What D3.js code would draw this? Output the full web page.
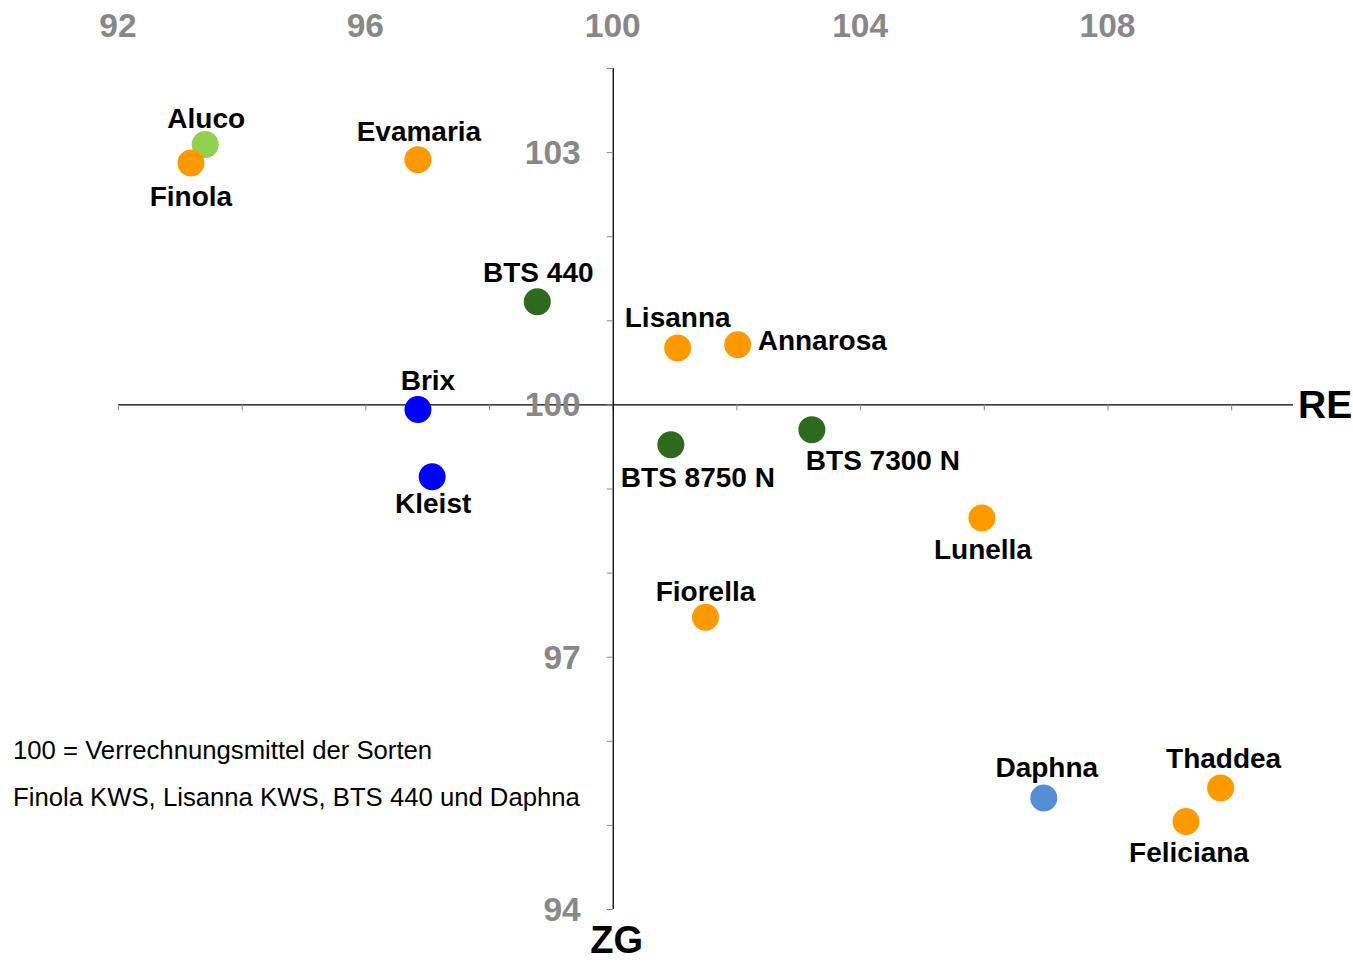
<!DOCTYPE html>
<html><head><meta charset="utf-8">
<script src="https://cdn.jsdelivr.net/npm/d3@7"></script>
<style>body{margin:0;background:#fff}svg{display:block}</style>
</head><body>
<script>
// ---- data ----
const varieties = ["Aluco","Finola","Evamaria","BTS 440","Lisanna","Annarosa","Brix","Kleist","BTS 8750 N","BTS 7300 N","Lunella","Fiorella","Daphna","Thaddea","Feliciana"];
const reValues  = [93.41, 93.18, 96.85, 98.78, 101.05, 102.02, 96.85, 97.08, 100.94, 103.22, 105.97, 101.50, 106.97, 109.83, 109.27];
const zgValues  = [103.09, 102.87, 102.91, 101.22, 100.67, 100.71, 99.94, 99.14, 99.52, 99.70, 98.65, 97.47, 95.32, 95.44, 95.04];
const groups    = ["lightgreen","orange","orange","darkgreen","orange","orange","blue","blue","darkgreen","darkgreen","orange","orange","lightblue","orange","orange"];
const xTickLabels = [92, 96, 100, 104, 108];
const yTickLabels = [94, 97, 100, 103];
const noteLines = ["100 = Verrechnungsmittel der Sorten", "Finola KWS, Lisanna KWS, BTS 440 und Daphna"];

// ---- styles / layout ----
const W = 1353, H = 962;
const colors = {orange:"#FF9900", lightgreen:"#92D050", darkgreen:"#2E6A1E", blue:"#0000FF", lightblue:"#558ED5"};
const labelLayout = {
  "Aluco":{pos:"above",dx:1,dy:3}, "Finola":{pos:"below",dx:0,dy:2}, "Evamaria":{pos:"above",dx:1,dy:1},
  "BTS 440":{pos:"above",dx:1,dy:0}, "Lisanna":{pos:"above",dx:0,dy:-1}, "Annarosa":{pos:"right",dx:0,dy:0},
  "Brix":{pos:"above",dx:10,dy:1}, "Kleist":{pos:"below",dx:1,dy:-5}, "BTS 8750 N":{pos:"below",dx:27,dy:1},
  "BTS 7300 N":{pos:"below",dx:71,dy:-1}, "Lunella":{pos:"below",dx:1,dy:0}, "Fiorella":{pos:"above",dx:0,dy:4},
  "Daphna":{pos:"above",dx:3,dy:-1}, "Thaddea":{pos:"above",dx:3,dy:0}, "Feliciana":{pos:"below",dx:3,dy:-1}
};
const font = "Liberation Sans, Arial, sans-serif";

const svg = d3.select("body").append("svg").attr("width",W).attr("height",H);
const x = d3.scaleLinear().domain([92,111]).range([118,1293]);
const y = d3.scaleLinear().domain([94,104]).range([909,68]);
const x0 = x(100), y0 = y(100);

// x axis (through y=100)
const xAxis = d3.axisBottom(x).tickValues(d3.range(92,111,2)).tickSize(6).tickFormat("");
const gx = svg.append("g").attr("transform",`translate(0,${y0})`).call(xAxis);
gx.select(".domain").attr("d",`M${x(92)},0.5H${x(111)}`).attr("stroke","#000").attr("stroke-width",1.3);
gx.selectAll(".tick line").attr("stroke","#888");

// y axis (through x=100)
const yAxis = d3.axisLeft(y).tickValues(d3.range(94,105,1)).tickSize(6).tickFormat("");
const gy = svg.append("g").attr("transform",`translate(${x0},0)`).call(yAxis);
gy.select(".domain").attr("d",`M0.5,${y(104)}V${y(94)}`).attr("stroke","#000").attr("stroke-width",1.3);
gy.selectAll(".tick line").attr("stroke","#888");

// top x tick labels
svg.append("g").selectAll("text").data(xTickLabels).join("text")
  .attr("x",d=>x(d)).attr("y",37).attr("text-anchor","middle")
  .attr("font-family",font).attr("font-weight","bold").attr("font-size",33.5).attr("fill","#888")
  .text(d=>d);

// y tick labels
svg.append("g").selectAll("text").data(yTickLabels).join("text")
  .attr("x",x0-32).attr("y",d=>y(d)+12).attr("text-anchor","end")
  .attr("font-family",font).attr("font-weight","bold").attr("font-size",33.5).attr("fill","#888")
  .text(d=>d);

// axis titles
svg.append("text").attr("x",1298).attr("y",y0+14).attr("font-family",font).attr("font-weight","bold")
  .attr("font-size",39).attr("fill","#000").text("RE");
svg.append("text").attr("x",x0+4).attr("y",953).attr("text-anchor","middle").attr("font-family",font).attr("font-weight","bold")
  .attr("font-size",38).attr("fill","#000").text("ZG");

// note
svg.append("g").selectAll("text").data(noteLines).join("text")
  .attr("x",13).attr("y",(d,i)=>759+i*47)
  .attr("font-family",font).attr("font-size",25.7).attr("fill","#000").text(d=>d);

// points
const pts = varieties.map((v,i)=>({name:v, re:reValues[i], zg:zgValues[i], g:groups[i]}));
svg.append("g").selectAll("circle").data(pts).join("circle")
  .attr("cx",d=>x(d.re)).attr("cy",d=>y(d.zg)).attr("r",13.5)
  .attr("fill",d=>colors[d.g]);

// labels
svg.append("g").selectAll("text").data(pts).join("text")
  .attr("x",d=>{const L=labelLayout[d.name]; return L.pos==="right"? x(d.re)+20 : x(d.re)+L.dx;})
  .attr("y",d=>{const L=labelLayout[d.name]; const cy=y(d.zg);
     return (L.pos==="above"? cy-20 : L.pos==="below"? cy+41 : cy+5) + L.dy;})
  .attr("text-anchor",d=>labelLayout[d.name].pos==="right"?"start":"middle")
  .attr("font-family",font).attr("font-weight","bold").attr("font-size",28).attr("fill","#000")
  .text(d=>d.name);
</script>
</body></html>
